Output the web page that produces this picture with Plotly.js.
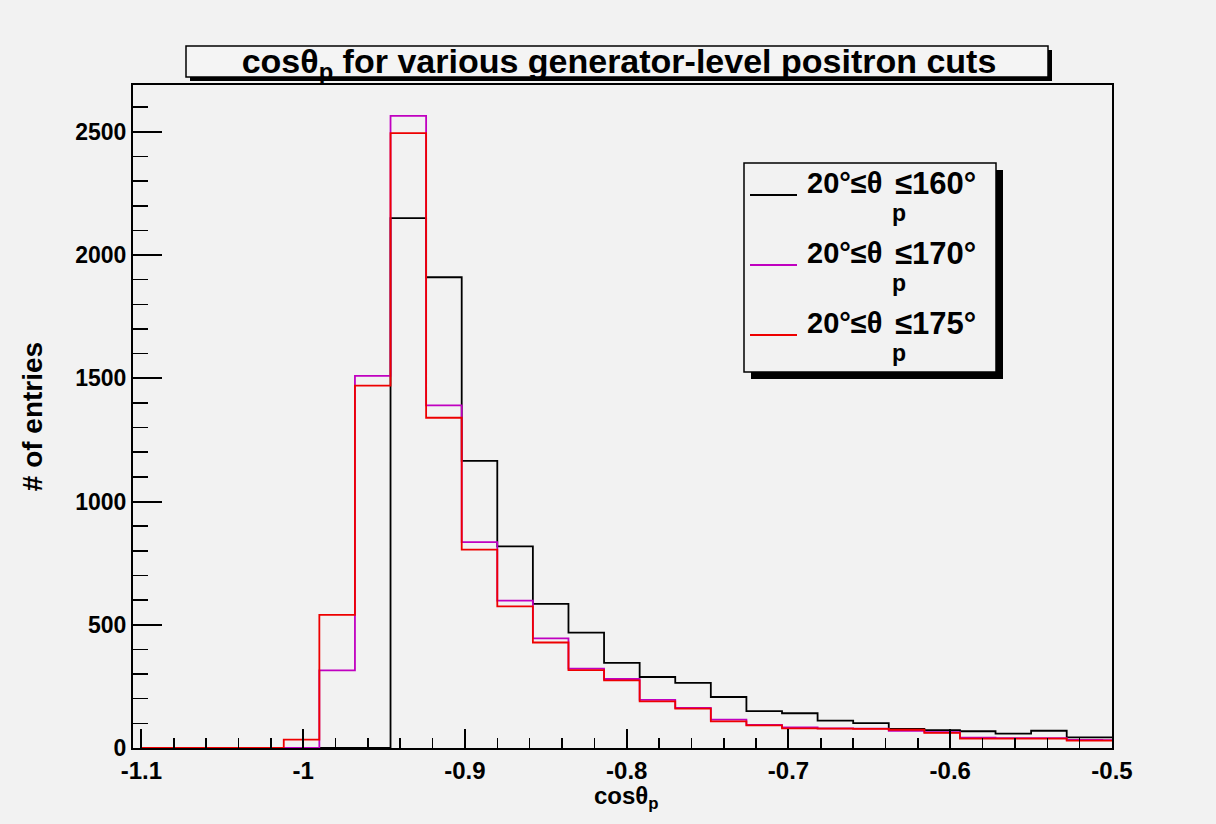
<!DOCTYPE html>
<html><head><meta charset="utf-8">
<script src="https://cdn.plot.ly/plotly-3.0.1.min.js"></script>
<style>html,body{margin:0;padding:0;background:#f2f2f2;}#chart{width:1216px;height:824px;}</style>
</head><body><div id="chart"></div>
<script>
// Histogram binning (bins of 0.022 starting at -1.1)
const binLow = -1.1;
const binWidth = 0.022;
// Bin contents, one per bin from -1.1 upward
const cut160 = [0,0,0,0, 0,0,0,2150,1910,1165,818,585,468,345,288,264,207,150,141,111,101,77,72,68,58,70,43,43];
const cut170 = [0,0,0,0, 0,315,1510,2565,1390,835,598,445,322,280,195,163,115,94,84,80,79,70,64,42,40,40,33,32];
const cut175 = [0,0,0,0, 34,540,1470,2495,1340,805,575,428,316,274,189,160,108,92,80,79,78,74,61,38,38,38,30,30];
const seriesNames = ['20°≤θ', '20°≤θ', '20°≤θ'];
const seriesUpper = ['≤160°', '≤170°', '≤175°'];
const seriesColors = ['#000000', '#c000c0', '#ee0000'];
const xTickVals = [-1.1, -1.0, -0.9, -0.8, -0.7, -0.6, -0.5];
const xTickText = ['-1.1', '-1', '-0.9', '-0.8', '-0.7', '-0.6', '-0.5'];
const yTickVals = [0, 500, 1000, 1500, 2000, 2500];
const yTickText = ['0', '500', '1000', '1500', '2000', '2500'];

function edges(n) {
  const e = [];
  for (let i = 0; i <= n; i++) e.push(+(binLow + i * binWidth).toFixed(4));
  return e;
}
function stepTrace(vals, color) {
  return {
    type: 'scatter', mode: 'lines',
    x: edges(vals.length), y: vals.concat([vals[vals.length - 1]]),
    line: {shape: 'hv', color: color, width: 1.8},
    hoverinfo: 'skip'
  };
}
const traces = [stepTrace(cut160, seriesColors[0]), stepTrace(cut170, seriesColors[1]), stepTrace(cut175, seriesColors[2])];

// pixel -> paper helpers (plot area 133..1112 x 85..748)
const L = 133, R = 1112, T = 85, B = 748;
const px = x => (x - L) / (R - L);
const py = y => (B - y) / (B - T);
const FONT = 'Liberation Sans, Arial, sans-serif';

const shapes = [
  // title box shadow + box
  {type:'rect', xref:'paper', yref:'paper', x0:px(190), x1:px(1052), y0:py(50), y1:py(81), fillcolor:'#000', line:{width:0}},
  {type:'rect', xref:'paper', yref:'paper', x0:px(186), x1:px(1048), y0:py(46), y1:py(77), fillcolor:'#f4f4f4', line:{color:'#000', width:1.5}},
  // legend box shadow + box
  {type:'rect', xref:'paper', yref:'paper', x0:px(751), x1:px(1003), y0:py(170), y1:py(379), fillcolor:'#000', line:{width:0}},
  {type:'rect', xref:'paper', yref:'paper', x0:px(744), x1:px(996), y0:py(163), y1:py(372), fillcolor:'#f2f2f2', line:{color:'#000', width:1.5}}
];
const annotations = [];
const rowY = [183, 253, 323];
const lineY = [195, 265, 335];
for (let i = 0; i < 3; i++) {
  shapes.push({type:'line', xref:'paper', yref:'paper', x0:px(750), x1:px(797), y0:py(lineY[i]), y1:py(lineY[i]), line:{color:seriesColors[i], width:1.8}});
  annotations.push({xref:'paper', yref:'paper', x:px(805), y:py(rowY[i]), xanchor:'left', yanchor:'middle', showarrow:false, text:seriesNames[i], font:{family:FONT, size:29, weight:700, color:'#000'}});
  annotations.push({xref:'paper', yref:'paper', x:px(893), y:py(rowY[i]), xanchor:'left', yanchor:'middle', showarrow:false, text:seriesUpper[i], font:{family:FONT, size:31, weight:700, color:'#000'}});
  annotations.push({xref:'paper', yref:'paper', x:px(899), y:py(rowY[i] + 30), xanchor:'center', yanchor:'middle', showarrow:false, text:'p', font:{family:FONT, size:23, weight:700, color:'#000'}});
}
// x-axis title placed just under the tick labels
annotations.push({xref:'paper', yref:'paper', x:px(626), y:py(797), xanchor:'center', yanchor:'middle', showarrow:false, text:'cosθ<sub>p</sub>', font:{family:FONT, size:24, weight:700, color:'#000'}});

const layout = {
  width: 1216, height: 824,
  paper_bgcolor: '#f2f2f2', plot_bgcolor: '#f2f2f2',
  margin: {l: L, r: 1216 - R, t: T, b: 824 - B, pad: 0},
  showlegend: false,
  font: {family: FONT, color: '#000'},
  title: {text: 'cosθ<sub>p</sub> for various generator-level positron cuts', xref:'container', yref:'container', x: 619/1216, xanchor:'center', y: 1 - 61/824, yanchor:'middle', font:{family:FONT, size:34, weight:700, color:'#000'}},
  xaxis: {
    range: [-1.1052, -0.5], tickmode:'array', tickvals: xTickVals, ticktext: xTickText,
    ticks:'inside', ticklen:19, tickwidth:2, tickcolor:'#000',
    minor: {tickmode:'linear', tick0:-1.1, dtick:0.02, ticks:'inside', ticklen:10, tickwidth:1.5, tickcolor:'#000', showgrid:false},
    showline:true, linecolor:'#000', linewidth:2, mirror:true, showgrid:false, zeroline:false,
    tickfont:{family:FONT, size:24, weight:700, color:'#000'}
  },
  yaxis: {
    range: [0, 2690], tickmode:'array', tickvals: yTickVals, ticktext: yTickText,
    ticks:'inside', ticklen:29, tickwidth:2, tickcolor:'#000',
    minor: {tickmode:'linear', tick0:0, dtick:100, ticks:'inside', ticklen:15, tickwidth:1.5, tickcolor:'#000', showgrid:false},
    showline:true, linecolor:'#000', linewidth:2, mirror:true, showgrid:false, zeroline:false,
    tickfont:{family:FONT, size:23, weight:700, color:'#000'},
    title:{text:'# of entries', standoff:24, font:{family:FONT, size:28, weight:700, color:'#000'}}
  },
  shapes: shapes,
  annotations: annotations
};
Plotly.newPlot('chart', traces, layout, {displayModeBar:false, staticPlot:true});
</script></body></html>
